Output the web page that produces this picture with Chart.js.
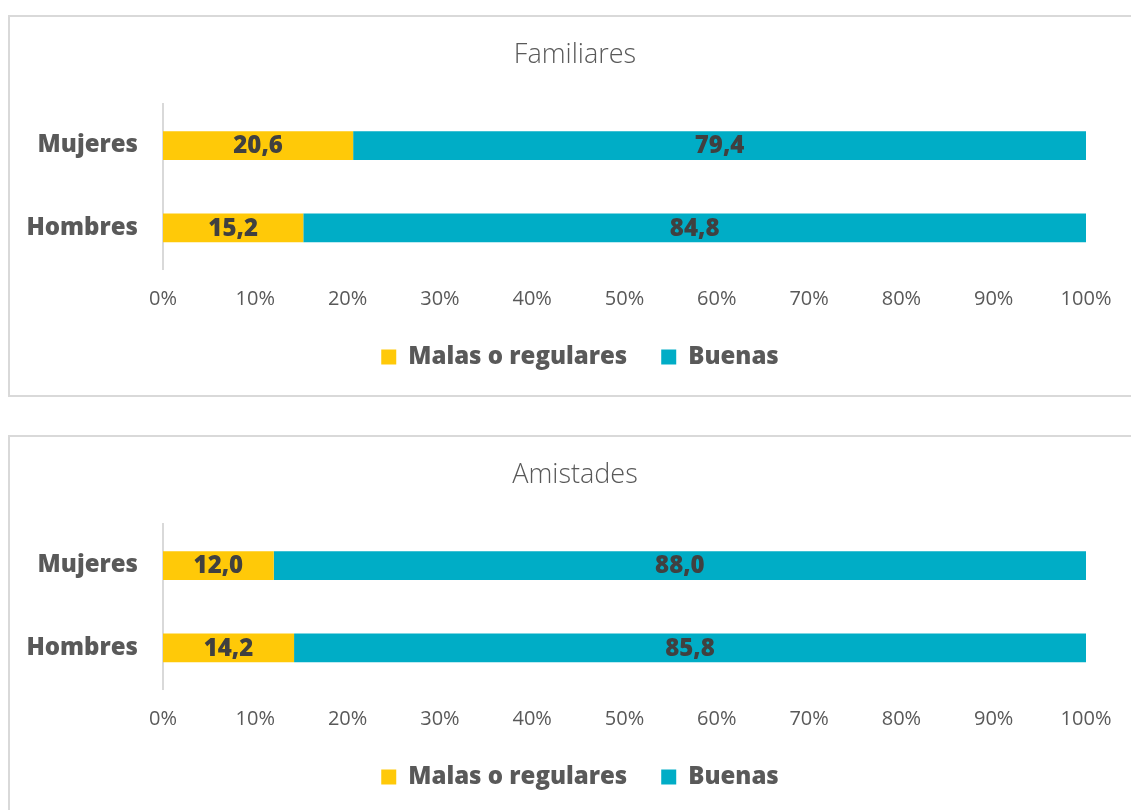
<!DOCTYPE html>
<html>
<head>
<meta charset="utf-8">
<script src="https://cdn.jsdelivr.net/npm/chart.js@4.4.1/dist/chart.umd.min.js"></script>
<style>
  html, body { margin: 0; padding: 0; background: #fff; overflow: hidden; }
  .panel { position: absolute; left: 8px; border: 2px solid #d9d9d9; border-right: none; background: #fff; }
  #p1 { top: 15px; height: 378px; width: 1135px; }
  #p2 { top: 435px; height: 378px; width: 1135px; }
  canvas { display: block; }
</style>
</head>
<body>
<div class="panel" id="p1"><canvas id="chart1" width="1135" height="378"></canvas></div>
<div class="panel" id="p2"><canvas id="chart2" width="1135" height="378"></canvas></div>
<script>
// data
const categories = ["Mujeres", "Hombres"];
const seriesNames = ["Malas o regulares", "Buenas"];
const familiaresMalas = [20.6, 15.2];
const familiaresBuenas = [79.4, 84.8];
const amistadesMalas = [12.0, 14.2];
const amistadesBuenas = [88.0, 85.8];
const tickValues = [0, 10, 20, 30, 40, 50, 60, 70, 80, 90, 100];

const yellow = "#FFC908";
const teal = "#00ADC6";
const grey = "#595959";
const heavy = '"Open Sans", sans-serif';

// labels in the middle of each bar segment
const barLabels = {
  id: "barLabels",
  afterDatasetsDraw(chart) {
    const ctx = chart.ctx;
    ctx.save();
    ctx.font = "800 24px " + heavy;
    ctx.fillStyle = "#404040";
    ctx.textAlign = "center";
    ctx.textBaseline = "middle";
    chart.data.datasets.forEach((ds, i) => {
      chart.getDatasetMeta(i).data.forEach((bar, j) => {
        const p = bar.getProps(["x", "y", "base"], true);
        ctx.fillText(ds.data[j].toFixed(1).replace(".", ","), (p.x + p.base) / 2, p.y + 1);
      });
    });
    ctx.restore();
  },
};

// title and legend sit a bit right of the canvas centre in the original
const shiftBlocks = {
  id: "shiftBlocks",
  afterLayout(chart) {
    if (chart.titleBlock) { chart.titleBlock.left += 27; chart.titleBlock.right += 27; }
    if (chart.legend) { chart.legend.left += 32; chart.legend.right += 32; }
  },
};

function makeChart(id, title, malas, buenas) {
  const ctx = document.getElementById(id).getContext("2d");
  return new Chart(ctx, {
    type: "bar",
    data: {
      labels: categories,
      datasets: [
        { label: seriesNames[0], data: malas, backgroundColor: yellow },
        { label: seriesNames[1], data: buenas, backgroundColor: teal },
      ],
    },
    plugins: [barLabels, shiftBlocks],
    options: {
      indexAxis: "y",
      responsive: false,
      animation: false,
      events: [],
      categoryPercentage: 0.35,
      barPercentage: 1,
      layout: { padding: { left: 0, right: 59, top: 0, bottom: 16 } },
      scales: {
        x: {
          stacked: true,
          min: 0,
          max: 100,
          afterBuildTicks: (scale) => {
            scale.ticks = tickValues.map((v) => ({ value: v }));
          },
          grid: { display: false, drawTicks: false },
          border: { display: false },
          ticks: {
            padding: 18,
            color: grey,
            font: { family: '"Open Sans", sans-serif', size: 20, weight: 400 },
            callback: (v) => v + "%",
          },
          afterFit: (scale) => { scale.height = 42; },
        },
        y: {
          stacked: true,
          grid: { display: false, drawTicks: false },
          border: { display: true, color: "#d9d9d9", width: 2 },
          ticks: {
            padding: 25,
            color: grey,
            font: { family: heavy, size: 24, weight: 800 },
          },
          afterFit: (scale) => { scale.width = 153; },
        },
      },
      plugins: {
        title: {
          display: true,
          text: title,
          color: grey,
          font: { family: '"Open Sans", sans-serif', size: 27, weight: 300 },
          padding: { top: 22, bottom: 33 },
        },
        legend: {
          position: "bottom",
          labels: {
            boxWidth: 15,
            boxHeight: 15,
            padding: 34,
            color: grey,
            font: { family: heavy, size: 24, weight: 800 },
          },
        },
        tooltip: { enabled: false },
      },
    },
  });
}

makeChart("chart1", "Familiares", familiaresMalas, familiaresBuenas);
makeChart("chart2", "Amistades", amistadesMalas, amistadesBuenas);
</script>
</body>
</html>
